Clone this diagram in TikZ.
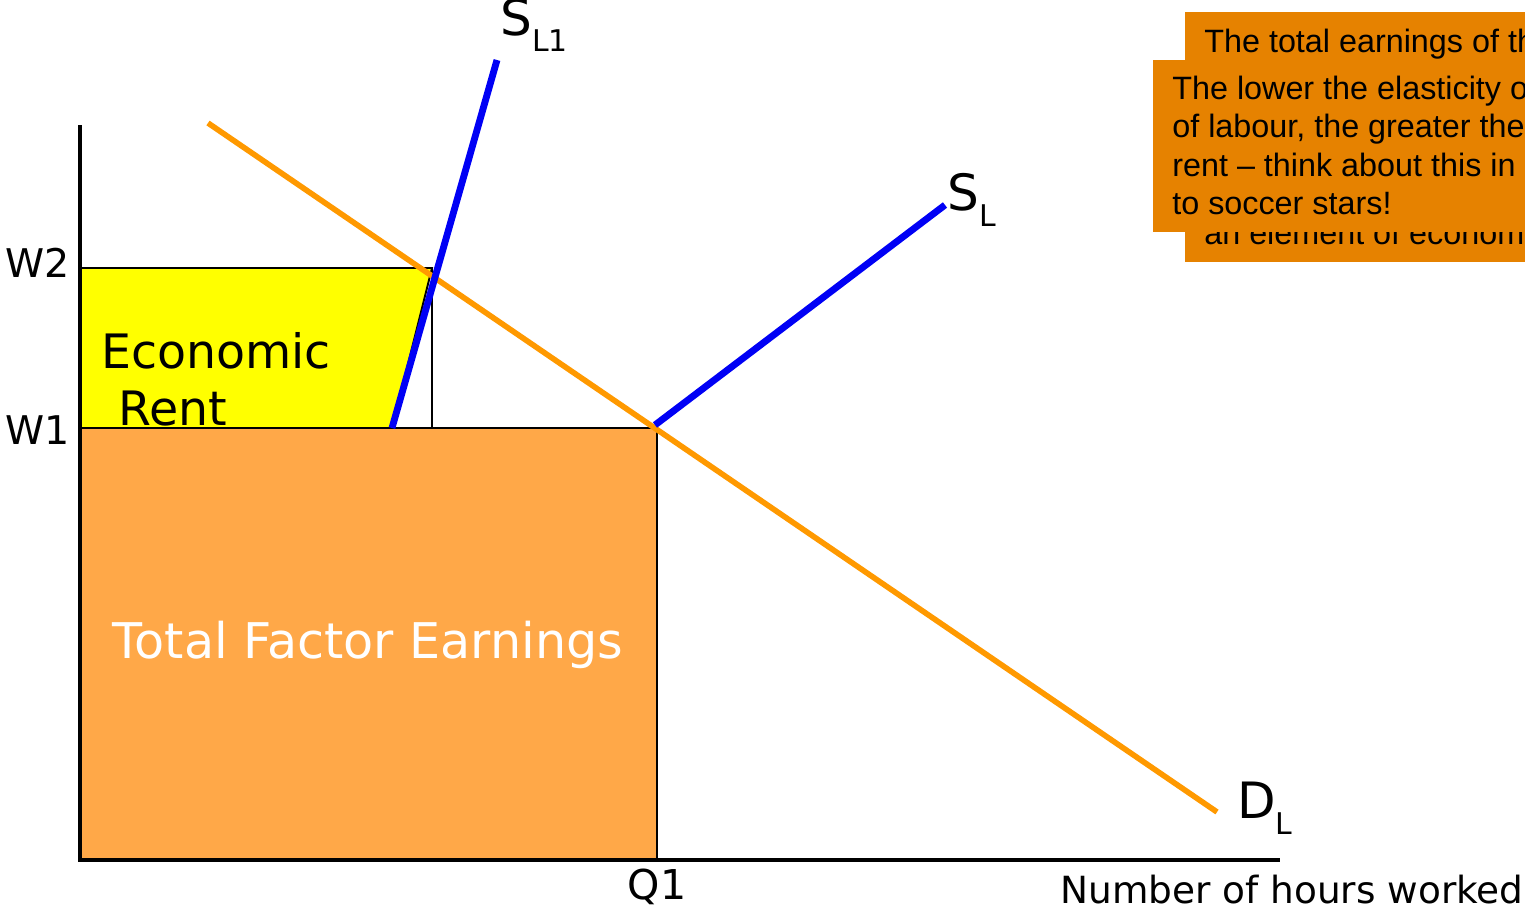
\documentclass[tikz,border=0pt]{standalone}
\usepackage{fontspec}
\setmainfont{DejaVu Sans}
\newfontfamily\notefont{Liberation Sans}
\definecolor{earnorange}{RGB}{255, 168, 72}
\definecolor{rentyellow}{RGB}{255, 255, 0}
\definecolor{supblue}{RGB}{0, 0, 245}
\definecolor{demorange}{RGB}{255, 153, 0}
\definecolor{noteorange}{RGB}{230, 130, 0}

\begin{document}
\begin{tikzpicture}[x=0.02cm, y=-0.02cm,
  axislbl/.style={inner sep=0pt, font=\fontsize{22.5}{26}\selectfont},
  curvelbl/.style={inner sep=0pt, anchor=base west, font=\fontsize{28.5}{33}\selectfont},
  arealbl/.style={inner sep=0pt, font=\fontsize{27}{32}\selectfont},
  notetxt/.style={inner sep=0pt, anchor=base west, font=\notefont\fontsize{18.4}{22}\selectfont}]

  % ── Layout ──────────────────────────────────────────────────────────
  \def\xO{80}     % vertical axis
  \def\yO{860}    % horizontal axis
  \def\yWa{428}   % W1
  \def\yWb{268}   % W2
  \def\xQ{657}    % Q1
  \newcommand{\sublbl}[1]{\raisebox{-9.5pt}{\fontsize{17}{20}\selectfont #1}}

  \useasboundingbox (0,0) rectangle (1525,914);
  \clip (0,0) rectangle (1525,914);

  % ── Curve end points ─────────────────────────────────────────────────
  \coordinate (dtop) at (208,123);
  \coordinate (dbot) at (1217,812);
  \coordinate (sla) at (497,60);
  \coordinate (slb) at (392,\yWa);
  \coordinate (eq) at (655,425);
  \coordinate (sltop) at (945,205);
  \coordinate (ytop) at (\xO,125);
  \coordinate (orig) at (\xO,\yO);
  \coordinate (xend) at (1280,\yO);

  % ── Total factor earnings ────────────────────────────────────────────
  \filldraw[fill=earnorange, draw=black, line width=1.1pt]
    (\xO,\yWa) rectangle (\xQ,\yO);

  % ── Economic rent ────────────────────────────────────────────────────
  \filldraw[fill=rentyellow, draw=black, line width=1.1pt]
    (\xO,\yWb) -- (432,\yWb) -- (slb) -- (\xO,\yWa) -- cycle;
  \draw[line width=1.1pt] (432,\yWb) -- (432,\yWa);

  % ── Axes ─────────────────────────────────────────────────────────────
  \draw[line width=2.6pt] (ytop) -- (orig) -- (xend);

  % ── Demand and supply ────────────────────────────────────────────────
  \draw[demorange, line width=3.2pt] (dtop) -- (dbot);
  \draw[supblue, line width=3.9pt] (slb) -- (sla);
  \draw[supblue, line width=3.9pt] (eq) -- (sltop);

  % ── Labels ───────────────────────────────────────────────────────────
  \node[axislbl, anchor=east] (wb) at (70,263) {W2};
  \node[axislbl, anchor=east] (wa) at (70,430) {W1};
  \node[axislbl, font=\fontsize{23.4}{27}\selectfont] (q) at (\xQ,887) {Q1};
  \node[axislbl, anchor=west, font=\fontsize{21.3}{25}\selectfont] (hours)
    at (1060,890) {Number of hours worked};

  \node[curvelbl] (lsla) at (500,35) {S\sublbl{L1}};
  \node[curvelbl] (lsl) at (947,210) {S\sublbl{L}};
  \node[curvelbl] (ld) at (1237,818) {D\sublbl{L}};

  \node[arealbl, anchor=base west] (econ) at (101,368) {Economic};
  \node[arealbl, anchor=base west] (rent) at (118,425) {Rent};
  \node[arealbl, white, font=\fontsize{28}{33}\selectfont] (tfe) at (368,645)
    {Total Factor Earnings};

  % ── Notes (top right) ────────────────────────────────────────────────
  \fill[noteorange] (1185,12) rectangle (1540,262);
  \node[notetxt] (notea) at (1204,52) {The total earnings of the};
  \node[notetxt] (noteb) at (1204,244) {an element of economic};
  \fill[noteorange] (1153,60) rectangle (1540,232);
  \node[notetxt] (notec) at (1172,99) {The lower the elasticity of};
  \node[notetxt] (noted) at (1172,137.5) {of labour, the greater the};
  \node[notetxt] (notee) at (1172,176) {rent \textendash{} think about this in relation};
  \node[notetxt] (notef) at (1172,214.5) {to soccer stars!};

\end{tikzpicture}
\end{document}
